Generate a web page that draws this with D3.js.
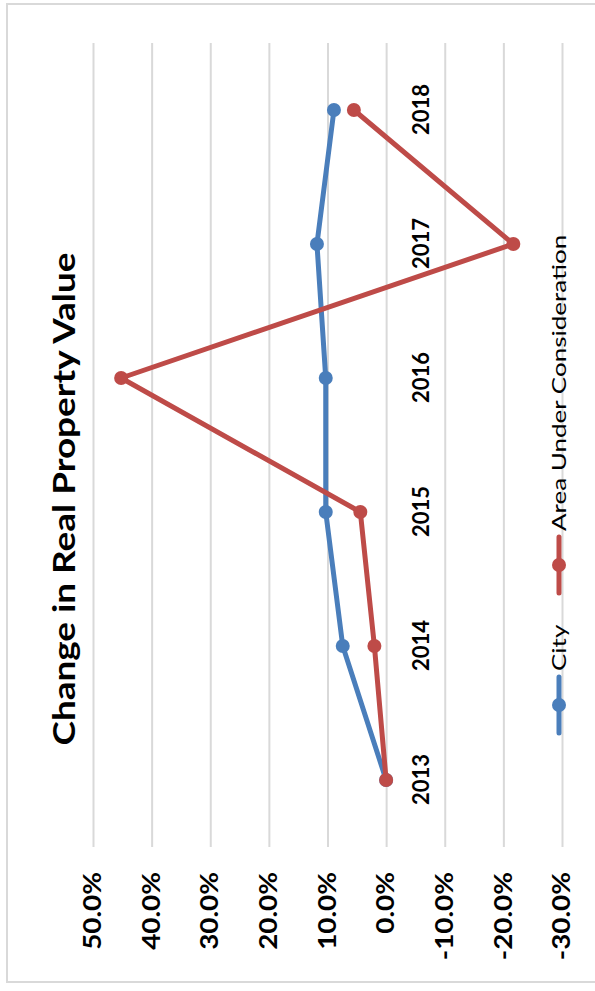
<!DOCTYPE html>
<html>
<head>
<meta charset="utf-8">
<script src="https://cdn.jsdelivr.net/npm/d3@7"></script>
<style>
  html, body { margin: 0; padding: 0; background: #fff; }
  svg { display: block; }
</style>
</head>
<body>
<div id="chart"></div>
<script>
// chart data
const years = ["2013", "2014", "2015", "2016", "2017", "2018"];
const cityValues = [0.000, 0.074, 0.103, 0.103, 0.118, 0.089];
const areaValues = [0.000, 0.020, 0.044, 0.452, -0.217, 0.055];
const seriesNames = ["City", "Area Under Consideration"];
const seriesColors = ["#4a7ebb", "#be4b48"];
const valueTicks = [0.5, 0.4, 0.3, 0.2, 0.1, 0, -0.1, -0.2, -0.3];

const width = 595, height = 991;
// the chart is drawn landscape, then turned a quarter turn counter-clockwise
const font = "Lato, 'Open Sans', sans-serif";

// the source picture is a little stretched along the category direction
function stretch(sel, k) {
  sel.each(function() {
    const t = d3.select(this);
    const x0 = +t.attr("x") || 0;
    t.attr("transform", `translate(${x0},0) scale(${k},1) translate(${-x0},0)`);
  });
}

const svg = d3.select("#chart").append("svg")
    .attr("width", width)
    .attr("height", height)
    .attr("font-family", font);

// outer chart frame
svg.append("rect")
    .attr("x", 7).attr("y", 4)
    .attr("width", 600).attr("height", 978)
    .attr("fill", "#fff")
    .attr("stroke", "#d9d9d9")
    .attr("stroke-width", 2);

const g = svg.append("g")
    .attr("transform", `translate(0,${height}) rotate(-90)`);

const plotLeft = 144, plotRight = 948, plotTop = 93, plotBottom = 562;

const x = d3.scalePoint()
    .domain(years)
    .range([plotLeft, plotRight])
    .padding(0.5);

const y = d3.scaleLinear()
    .domain([-0.3, 0.5])
    .range([plotBottom, plotTop]);

const fmt = d3.formatLocale({decimal: ".", thousands: ",", grouping: [3], currency: ["$", ""], minus: "-"}).format(".1%");

// value axis with gridlines
const yAxis = g.append("g")
    .attr("transform", `translate(${plotLeft},0)`)
    .call(d3.axisLeft(y)
      .tickValues(valueTicks)
      .tickFormat(fmt)
      .tickSizeInner(-(plotRight - plotLeft))
      .tickSizeOuter(0)
      .tickPadding(25));
yAxis.select(".domain").remove();
yAxis.selectAll(".tick line")
    .attr("stroke", "#d9d9d9")
    .attr("stroke-width", 2);
yAxis.selectAll(".tick text")
    .attr("font-family", font)
    .attr("font-size", 24)
    .attr("font-weight", "bold")
    .attr("fill", "#000")
    .call(stretch, 1.16);

// category axis sits on the zero line
const xAxis = g.append("g")
    .attr("transform", `translate(0,${y(0)})`)
    .call(d3.axisBottom(x).tickSize(0).tickPadding(27));
xAxis.select(".domain").remove();
xAxis.selectAll(".tick text")
    .attr("font-family", font)
    .attr("font-size", 22)
    .attr("font-weight", "bold")
    .attr("fill", "#000");

// series
const series = [cityValues, areaValues].map((values, i) => ({
  name: seriesNames[i],
  color: seriesColors[i],
  points: years.map((yr, j) => ({year: yr, value: values[j]}))
}));

const line = d3.line()
    .x(d => x(d.year))
    .y(d => y(d.value));

const s = g.selectAll(".series")
  .data(series)
  .join("g")
    .attr("class", "series");

s.append("path")
    .attr("d", d => line(d.points))
    .attr("fill", "none")
    .attr("stroke", d => d.color)
    .attr("stroke-width", 5)
    .attr("stroke-linejoin", "round")
    .attr("stroke-linecap", "round");

s.selectAll("circle")
  .data(d => d.points.map(p => ({...p, color: d.color})))
  .join("circle")
    .attr("cx", d => x(d.year))
    .attr("cy", d => y(d.value))
    .attr("r", 7)
    .attr("fill", d => d.color);

// title
g.append("text")
    .attr("x", 492)
    .attr("y", 75)
    .attr("text-anchor", "middle")
    .attr("font-size", 31)
    .attr("font-weight", "bold")
    .attr("fill", "#000")
    .text("Change in Real Property Value")
    .call(stretch, 1.19);

// legend
const legendY = 559;
const legendX = [258, 398];
const legend = g.selectAll(".legend")
  .data(series)
  .join("g")
    .attr("class", "legend")
    .attr("transform", (d, i) => `translate(${legendX[i]},${legendY})`);

legend.append("line")
    .attr("x1", 0).attr("x2", 56)
    .attr("stroke", d => d.color)
    .attr("stroke-width", 5)
    .attr("stroke-linecap", "round");

legend.append("circle")
    .attr("cx", 28)
    .attr("r", 7)
    .attr("fill", d => d.color);

legend.append("text")
    .attr("x", 62)
    .attr("dy", "0.35em")
    .attr("font-size", 20)
    .attr("fill", "#000")
    .text(d => d.name)
    .call(stretch, 1.3);
</script>
</body>
</html>
